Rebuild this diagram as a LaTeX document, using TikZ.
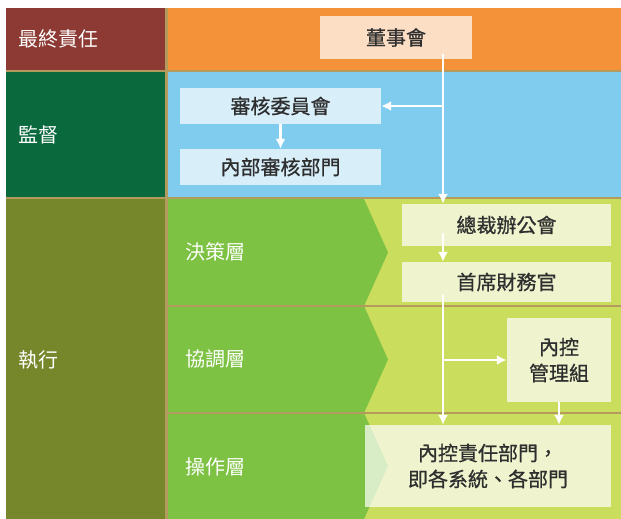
\documentclass[tikz,border=0pt]{standalone}
\usepackage{fontspec}
\newfontfamily\cjk{Noto Sans CJK TC}
\newfontfamily\cjkbox[FakeBold=0.8]{Noto Sans CJK TC}
\usetikzlibrary{arrows.meta}
\definecolor{cRed}{HTML}{8C3A33}
\definecolor{cOrange}{HTML}{F4923A}
\definecolor{cDkGreen}{HTML}{0B6A3D}
\definecolor{cBlue}{HTML}{7FCCEF}
\definecolor{cOlive}{HTML}{76862B}
\definecolor{cGreen}{HTML}{7DC243}
\definecolor{cLime}{HTML}{CADD5C}
\definecolor{cTan}{HTML}{B59A5E}
\definecolor{textGray}{HTML}{2E2E2E}
\tikzset{
  box/.style={rectangle,inner sep=0pt,fill=white,fill opacity=0.7,text opacity=1,
    text=textGray,align=center,font=\cjkbox\fontsize{20}{26}\selectfont},
  lab/.style={anchor=west,inner sep=0pt,text=white,font=\cjk\fontsize{20}{26}\selectfont},
  link/.style={white,line width=2.2pt,-{Latex[length=10pt,width=10pt]}}
}
\begin{document}
\begin{tikzpicture}[x=1pt,y=-1pt]
\useasboundingbox (0,0) rectangle (621,519);
\fill[white] (0,0) rectangle (621,519);
\fill[cTan] (6,8) rectangle (621,519);
%cells
\fill[cRed] (6,8) rectangle (165,70);
\fill[cOrange] (168,8) rectangle (621,70);
\fill[cDkGreen] (6,72) rectangle (165,197);
\fill[cBlue] (168,72) rectangle (621,197);
\fill[cOlive] (6,199) rectangle (165,519);
\fill[cLime] (168,199) rectangle (621,519);
%chevrons
\foreach \top/\bot in {199/306,306/413,413/519}
  \fill[cGreen] (168,\top) -- (364,\top) -- (388,{(\top+\bot)/2}) -- (364,\bot) -- (168,\bot) -- cycle;
\draw[cTan,line width=2pt] (168,306) -- (621,306) (168,413) -- (621,413);
%labels
\node[lab] (lFinal) at (18,39) {最終責任};
\node[lab] (lSuper) at (18,135) {監督};
\node[lab] (lExec) at (18,360) {執行};
\node[lab] (lDecide) at (185,252) {決策層};
\node[lab] (lCoord) at (185,359) {協調層};
\node[lab] (lOper) at (185,467) {操作層};
%boxes
\node[box,minimum width=152pt,minimum height=43pt] (bDirectors) at (396,37.5) {董事會};
\node[box,minimum width=201pt,minimum height=36pt] (bAudit) at (280.5,106) {審核委員會};
\node[box,minimum width=201pt,minimum height=36pt] (bInternal) at (280.5,167) {內部審核部門};
\node[box,minimum width=209pt,minimum height=42pt] (bPresident) at (506.5,225) {總裁辦公會};
\node[box,minimum width=209pt,minimum height=40pt] (bCFO) at (506.5,282) {首席財務官};
\node[box,minimum width=104pt,minimum height=84pt] (bControl) at (559,360) {內控\\管理組};
\node[box,minimum width=246pt,minimum height=82pt] (bDept) at (488,466) {內控責任部門，\\即各系統、各部門};
%links
\coordinate (trunk) at (443,0);
\draw[link] ([yshift=5pt]bDirectors.south -| trunk) -- (bPresident.north -| trunk);
\draw[link] (trunk |- bAudit.east) -- (bAudit.east);
\draw[link] (bAudit.south) -- (bInternal.north);
\draw[link] ([yshift=13pt]bPresident.south -| trunk) -- (bCFO.north -| trunk);
\draw[link] ([yshift=7pt]bCFO.south -| trunk) -- (bDept.north -| trunk);
\draw[link] (trunk |- bControl.west) -- (bControl.west);
\draw[link] (bControl.south) -- (bControl.south |- bDept.north);
\end{tikzpicture}
\end{document}
